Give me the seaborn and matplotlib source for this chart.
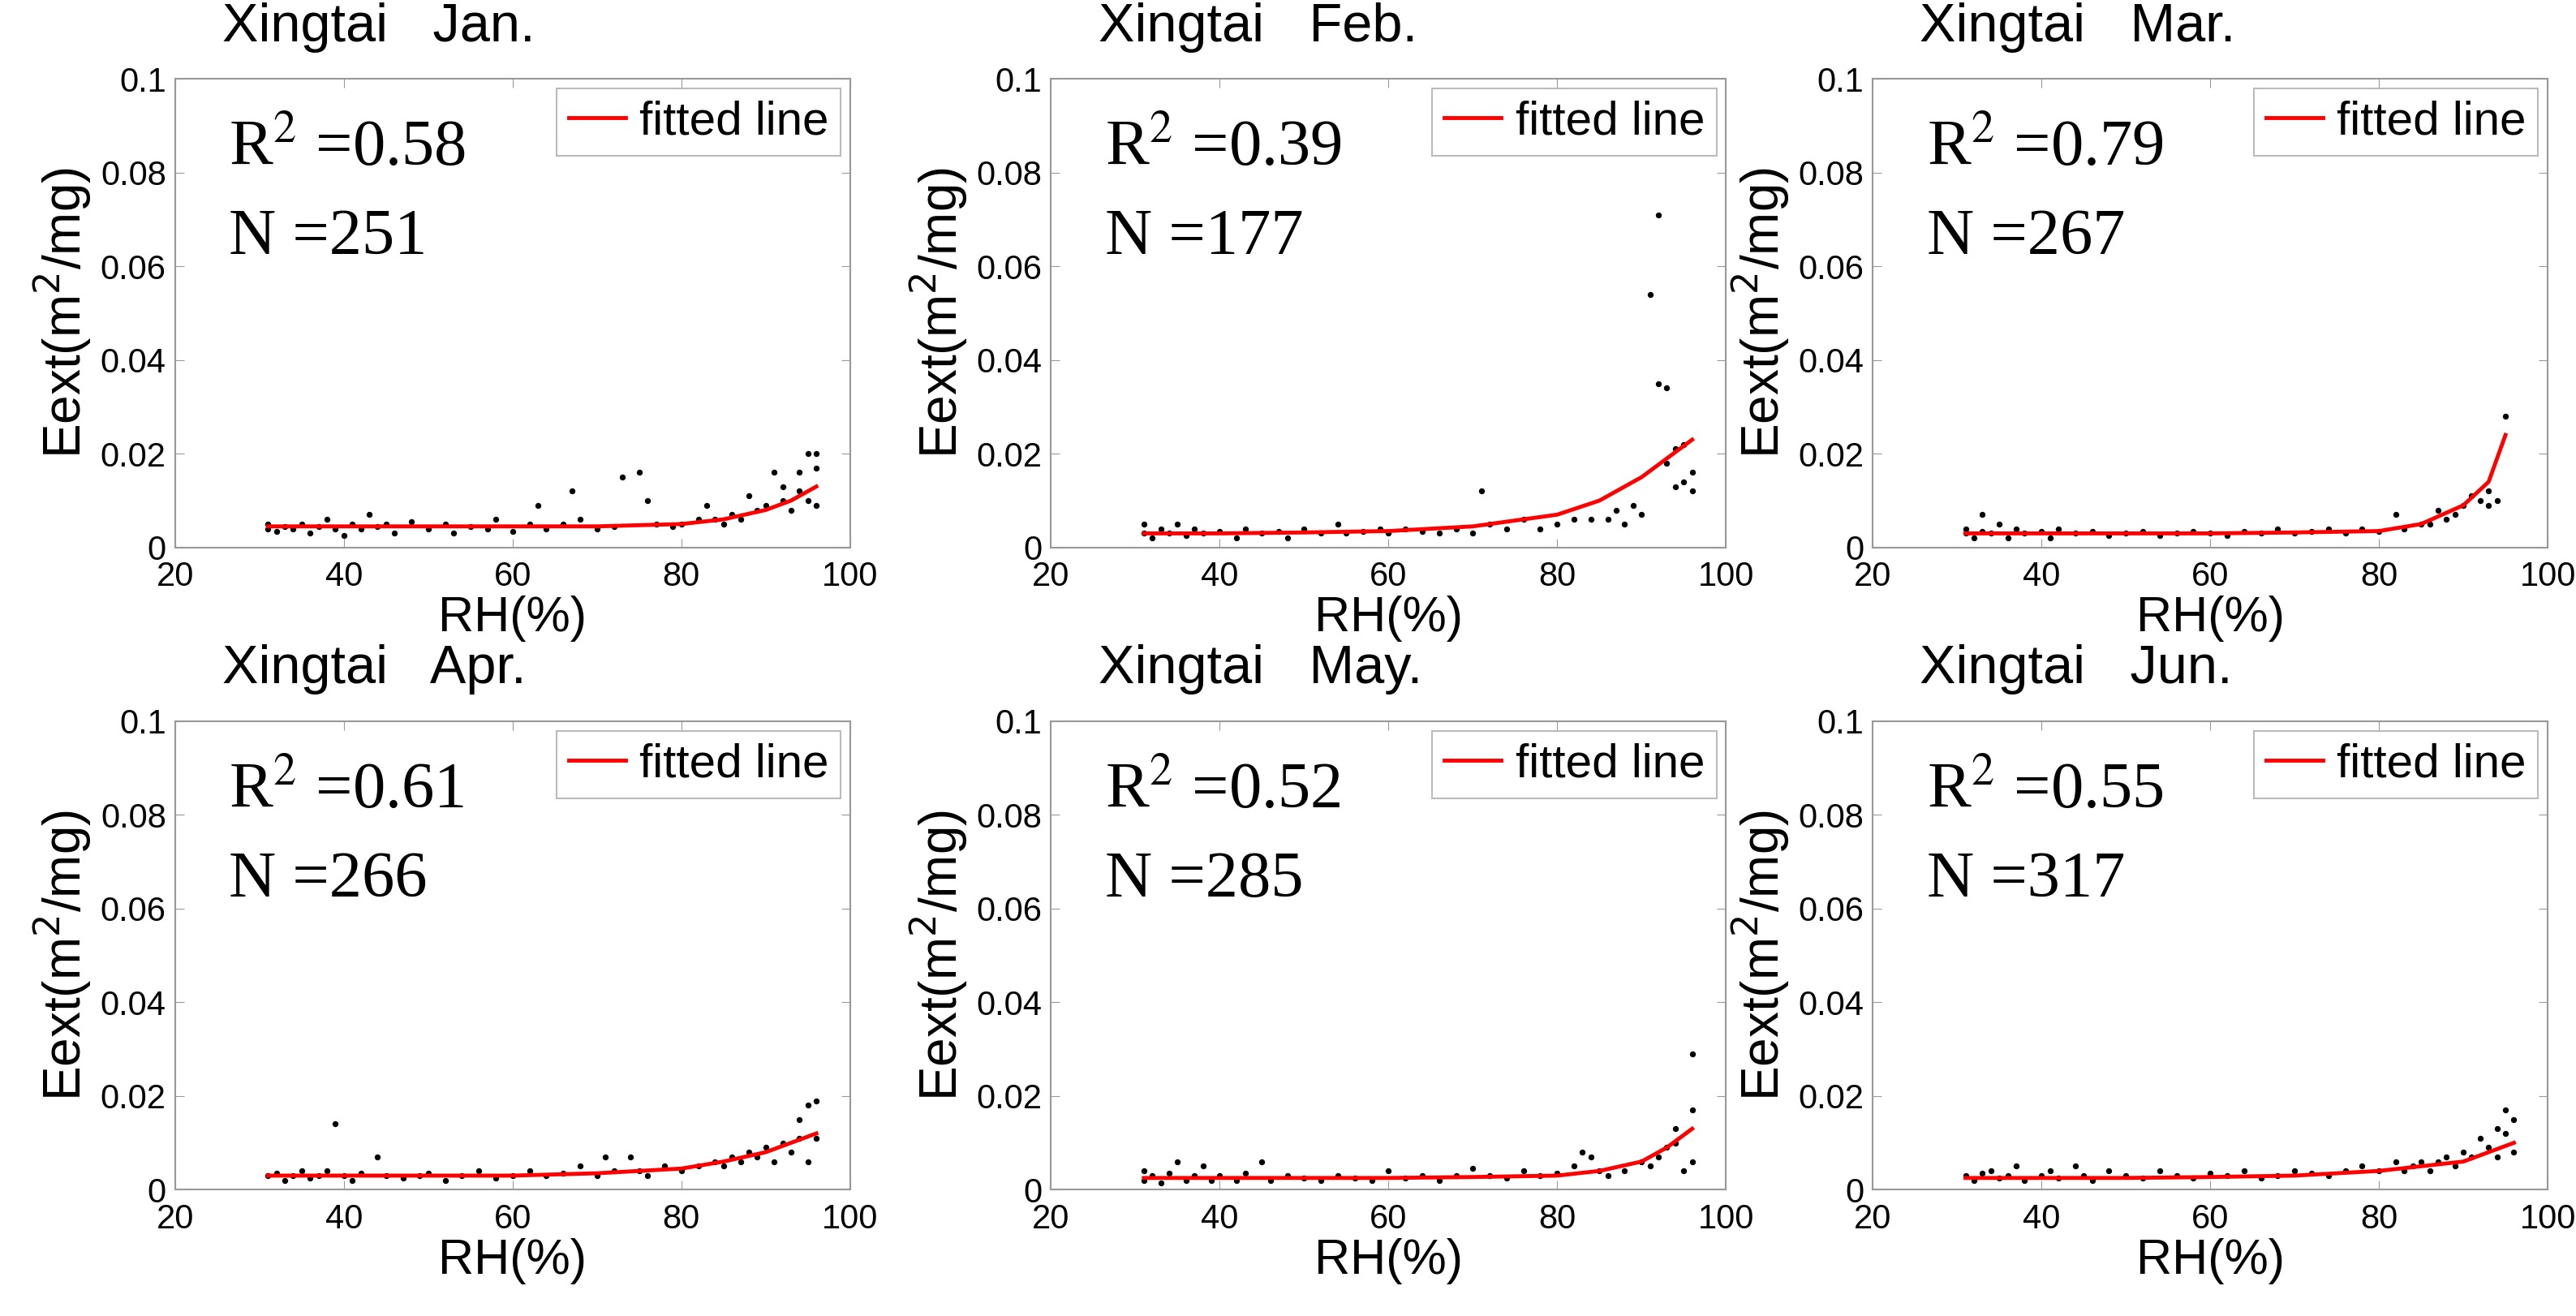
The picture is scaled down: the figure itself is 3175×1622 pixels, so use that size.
import pandas as pd
import matplotlib
matplotlib.use('Agg')
import matplotlib.pyplot as plt
import seaborn as sns

months = ['Jan.', 'Feb.', 'Mar.', 'Apr.', 'May.', 'Jun.']
r2_vals = ['0.58', '0.39', '0.79', '0.61', '0.52', '0.55']
n_vals = [251, 177, 267, 266, 285, 317]

# scatter points (subset)
rh_jan = [31, 31, 32, 33, 34, 35, 36, 37, 38, 39, 40, 41, 42, 43, 44, 45, 46, 48, 50, 52, 53, 55, 57, 58, 60, 62, 63, 64, 66, 67, 68, 70, 72, 73, 75, 76, 77, 79, 80, 82, 83, 84, 85, 86, 87, 88, 89, 90, 91, 92, 92, 93, 94, 94, 95, 95, 96, 96, 96]
ext_jan = [.004, .005, .0035, .0045, .004, .005, .003, .0045, .006, .004, .0025, .005, .004, .007, .0045, .005, .003, .0055, .004, .005, .003, .0045, .004, .006, .0035, .005, .009, .004, .005, .012, .006, .004, .0045, .015, .016, .010, .005, .0045, .005, .006, .009, .006, .005, .007, .006, .011, .008, .009, .016, .010, .013, .008, .016, .012, .020, .010, .020, .017, .009]

rh_feb = [31, 31, 32, 33, 34, 35, 36, 37, 38, 40, 42, 43, 45, 47, 48, 50, 52, 54, 55, 57, 59, 60, 62, 64, 66, 68, 70, 71, 72, 74, 76, 78, 80, 82, 84, 86, 87, 88, 89, 90, 91, 92, 92, 93, 93, 94, 94, 95, 95, 96, 96]
ext_feb = [.003, .005, .002, .004, .003, .005, .0025, .004, .003, .0035, .002, .004, .003, .0035, .002, .004, .003, .005, .003, .0035, .004, .003, .004, .0035, .003, .004, .003, .012, .005, .004, .006, .004, .005, .006, .006, .006, .008, .005, .009, .007, .054, .071, .035, .034, .018, .013, .021, .022, .014, .016, .012]

rh_mar = [31, 31, 32, 33, 33, 34, 35, 36, 37, 38, 40, 41, 42, 44, 46, 48, 50, 52, 54, 56, 58, 60, 62, 64, 66, 68, 70, 72, 74, 76, 78, 80, 82, 83, 85, 86, 87, 88, 89, 90, 91, 92, 93, 93, 94, 95]
ext_mar = [.003, .004, .002, .007, .0035, .003, .005, .002, .004, .003, .0035, .002, .004, .003, .0035, .0025, .003, .0035, .0025, .003, .0035, .003, .0025, .0035, .003, .004, .003, .0035, .004, .003, .004, .0035, .007, .004, .005, .005, .008, .006, .007, .009, .011, .010, .009, .012, .010, .028]

rh_apr = [31, 32, 33, 34, 35, 36, 37, 38, 39, 40, 41, 42, 44, 45, 47, 49, 50, 52, 54, 56, 58, 60, 62, 64, 66, 68, 70, 71, 72, 74, 75, 76, 78, 80, 82, 84, 85, 86, 87, 88, 89, 90, 91, 92, 93, 94, 94, 95, 95, 96, 96]
ext_apr = [.003, .0035, .002, .003, .004, .0025, .003, .004, .014, .003, .002, .0035, .007, .003, .0025, .003, .0035, .002, .003, .004, .0025, .003, .004, .003, .0035, .005, .003, .007, .004, .007, .004, .003, .005, .004, .005, .006, .005, .007, .006, .008, .007, .009, .006, .010, .008, .015, .011, .018, .006, .019, .011]

rh_may = [31, 31, 32, 33, 34, 35, 36, 37, 38, 39, 40, 42, 43, 45, 46, 48, 50, 52, 54, 56, 58, 60, 62, 64, 66, 68, 70, 72, 74, 76, 78, 80, 82, 83, 84, 85, 86, 88, 90, 91, 92, 93, 94, 94, 95, 96, 96, 96]
ext_may = [.004, .002, .003, .0015, .0035, .006, .002, .003, .005, .002, .003, .002, .0035, .006, .002, .003, .0025, .002, .003, .0025, .002, .004, .0025, .003, .002, .003, .0045, .003, .0025, .004, .003, .0035, .005, .008, .007, .004, .003, .004, .006, .005, .007, .009, .010, .013, .004, .029, .017, .006]

rh_jun = [31, 32, 33, 34, 35, 36, 37, 38, 40, 41, 42, 44, 45, 46, 48, 50, 52, 54, 56, 58, 60, 62, 64, 66, 68, 70, 72, 74, 76, 78, 80, 82, 83, 84, 85, 86, 87, 88, 89, 90, 91, 92, 93, 94, 94, 95, 95, 96, 96]
ext_jun = [.003, .002, .0035, .004, .0025, .003, .005, .002, .003, .004, .0025, .005, .003, .002, .004, .003, .0025, .004, .003, .0025, .0035, .003, .004, .0025, .003, .004, .0035, .003, .004, .005, .004, .006, .004, .005, .006, .004, .006, .007, .005, .008, .007, .011, .009, .007, .013, .017, .012, .015, .008]

# fitted curves
fit_rh = [31, 40, 50, 60, 70, 80, 85, 90, 93, 96]
fit_rh_mar = [31, 40, 50, 60, 70, 80, 85, 90, 93, 95]
fit_jan = [.0045, .0045, .0045, .0045, .0045, .005, .006, .008, .010, .013]
fit_feb = [.003, .003, .0032, .0035, .0045, .007, .010, .015, .019, .023]
fit_mar = [.003, .003, .003, .003, .0032, .0035, .005, .009, .014, .024]
fit_apr = [.003, .003, .003, .003, .0035, .0045, .006, .008, .010, .012]
fit_may = [.0025, .0025, .0025, .0025, .0027, .003, .004, .006, .009, .013]
fit_jun = [.0025, .0025, .0025, .0027, .003, .004, .005, .006, .008, .010]

pts = [(rh_jan, ext_jan), (rh_feb, ext_feb), (rh_mar, ext_mar),
       (rh_apr, ext_apr), (rh_may, ext_may), (rh_jun, ext_jun)]
fits = [(fit_rh, fit_jan), (fit_rh, fit_feb), (fit_rh_mar, fit_mar),
        (fit_rh, fit_apr), (fit_rh, fit_may), (fit_rh, fit_jun)]

plt.rcParams['font.family'] = 'Liberation Sans'
fig = plt.figure(figsize=(31.75, 16.22), dpi=100)

lefts = [0.068, 0.408, 0.727]
bottoms = [0.584, 0.096]
w, h = 0.262, 0.356

for i in range(6):
    ax = fig.add_axes([lefts[i % 3], bottoms[i // 3], w, h])
    df = pd.DataFrame({'rh': pts[i][0], 'ext': pts[i][1]})
    fit = pd.DataFrame({'rh': fits[i][0], 'ext': fits[i][1]})
    sns.scatterplot(data=df, x='rh', y='ext', ax=ax, color='black', marker='o',
                    s=28, linewidth=0, zorder=2)
    sns.lineplot(data=fit, x='rh', y='ext', ax=ax, color='red', linewidth=3.5,
                 label='fitted line', zorder=3)
    ax.set_xlim(20, 100)
    ax.set_ylim(0, 0.1)
    ax.set_xticks([20, 40, 60, 80, 100])
    ax.set_yticks([0, 0.02, 0.04, 0.06, 0.08, 0.1])
    ax.set_yticklabels(['0', '0.02', '0.04', '0.06', '0.08', '0.1'])
    ax.tick_params(direction='in', top=True, right=True, labelsize=30,
                   length=8, color='#999999')
    ax.tick_params(axis='x', pad=12)
    ax.tick_params(axis='y', pad=8)
    for s in ax.spines.values():
        s.set_color('#999999')
        s.set_linewidth(1.5)
    ax.set_xlabel('RH(%)', fontsize=44, labelpad=2)
    ax.set_ylabel('Eext(m$^2$/mg)', fontsize=46, labelpad=6)
    ax.text(0.07, 1.11, 'Xingtai   ' + months[i], transform=ax.transAxes,
            fontsize=48, va='center', ha='left')
    ax.text(0.08, 0.85, 'R$^2$ =' + r2_vals[i], transform=ax.transAxes,
            fontsize=58, family='Liberation Serif', va='center',
            math_fontfamily='stix')
    ax.text(0.08, 0.66, 'N =' + str(n_vals[i]), transform=ax.transAxes,
            fontsize=58, family='Liberation Serif', va='center')
    leg = ax.legend(loc='upper right', fontsize=42, handlelength=1.2,
                    handletextpad=0.3, borderpad=0.25, borderaxespad=0.2,
                    fancybox=False, framealpha=1)
    leg.get_frame().set_edgecolor('#bbbbbb')
    leg.get_frame().set_linewidth(1.5)

fig.savefig('out.png', dpi=100, facecolor='white')
